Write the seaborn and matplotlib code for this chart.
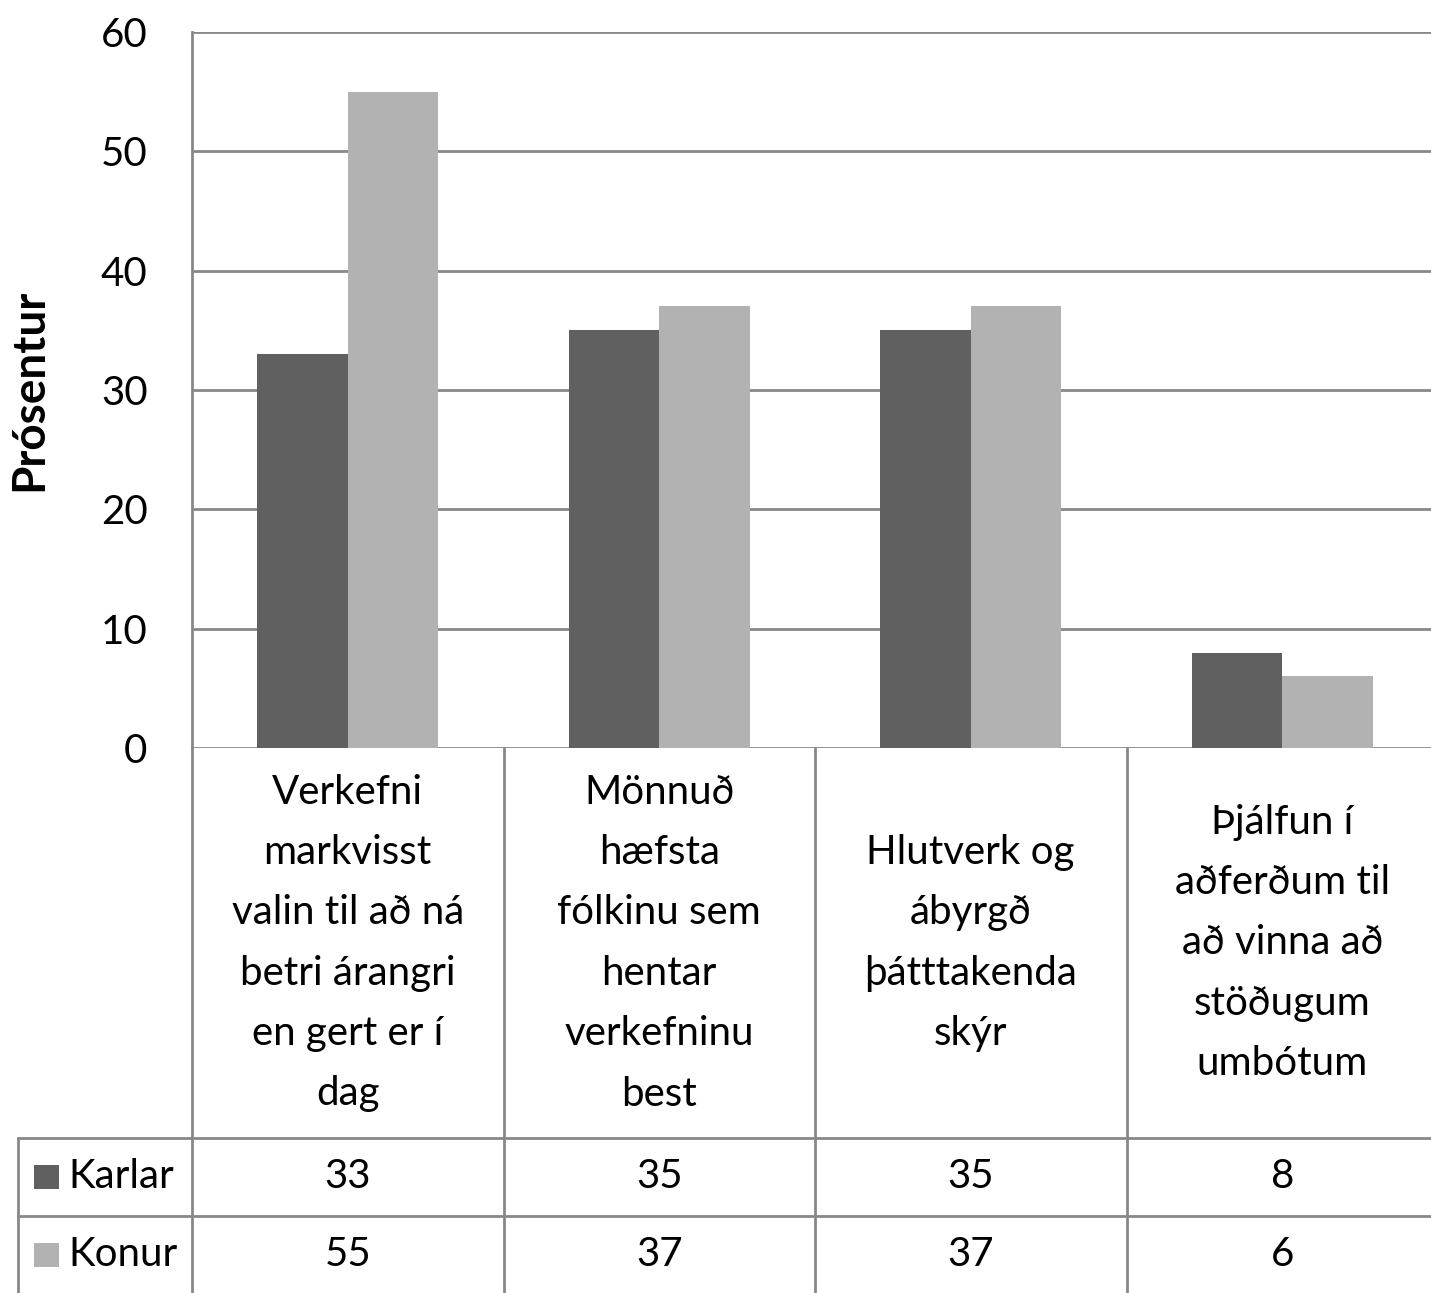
import matplotlib
matplotlib.use("Agg")
import matplotlib.pyplot as plt
import matplotlib.transforms as mtransforms
from matplotlib.lines import Line2D
from matplotlib.patches import Rectangle
import seaborn as sns
import pandas as pd

categories = [
    "Verkefni\nmarkvisst\nvalin til að ná\nbetri árangri\nen gert er í\ndag",
    "Mönnuð\nhæfsta\nfólkinu sem\nhentar\nverkefninu\nbest",
    "Hlutverk og\nábyrgð\nþátttakenda\nskýr",
    "Þjálfun í\naðferðum til\nað vinna að\nstöðugum\numbótum",
]
series_names = ["Karlar", "Konur"]
karlar = [33, 35, 35, 8]
konur = [55, 37, 37, 6]
y_ticks = [0, 10, 20, 30, 40, 50, 60]
y_label = "Prósentur"
colors = {"Karlar": "#606060", "Konur": "#b2b2b2"}
grid_color = "#888888"

sns.set_theme(style="white")
plt.rcParams["font.family"] = ["Lato", "DejaVu Sans"]

W, H = 1431, 1293
fig = plt.figure(figsize=(W / 100, H / 100), dpi=100)

def fx(px):
    return px / W

def fy(py):
    return 1 - py / H

FS = 29
ax_left, ax_right = 192, 1438
ax = fig.add_axes([fx(ax_left), fy(748), fx(ax_right) - fx(ax_left), fy(32) - fy(748)])

df = pd.DataFrame({
    "cat": list(range(len(categories))) * 2,
    "series": [series_names[0]] * len(karlar) + [series_names[1]] * len(konur),
    "value": karlar + konur,
})
df["cat"] = df["cat"].astype(str)
sns.barplot(data=df, x="cat", y="value", hue="series", palette=colors,
            width=0.58, gap=0, legend=False, ax=ax, zorder=3,
            saturation=1, linewidth=0)

ax.set_xlim(-0.5, len(categories) - 0.5)
ax.set_ylim(0, 60)
ax.set_yticks(y_ticks)
ax.set_yticklabels([str(t) for t in y_ticks], fontsize=FS, color="black")
ax.tick_params(axis="y", length=0, pad=32)
ax.set_xticks([])
ax.set_xlabel("")
ax.set_ylabel(y_label, fontsize=33, fontweight="bold", color="black")
ax.yaxis.set_label_coords((50 - ax_left) / (ax_right - ax_left), 0.5)
ax.yaxis.grid(True, color=grid_color, linewidth=2.0, zorder=0)
ax.set_axisbelow(True)
for s in ["top", "right", "bottom"]:
    ax.spines[s].set_visible(False)
ax.spines["left"].set_color(grid_color)
ax.spines["left"].set_linewidth(2.0)

# Data table below the chart
bt = mtransforms.blended_transform_factory(ax.transData, fig.transFigure)
lw = 2.0
n = len(categories)
row_top, row_mid1, row_mid2, row_bot = 748, 1138, 1216, 1293

def vline(x, py0, py1, trans=bt):
    fig.add_artist(Line2D([x, x], [fy(py0), fy(py1)], transform=trans,
                          color=grid_color, linewidth=lw, clip_on=False))

for i in range(n):
    vline(i - 0.5, row_top, row_bot)
for py in [row_mid1, row_mid2]:
    fig.add_artist(Line2D([fx(18), 1.0], [fy(py), fy(py)], transform=fig.transFigure,
                          color=grid_color, linewidth=lw, clip_on=False))
fig.add_artist(Line2D([fx(18), fx(18)], [fy(row_mid1), fy(row_bot)],
                      transform=fig.transFigure, color=grid_color, linewidth=lw))

for i, c in enumerate(categories):
    fig.text(i, (fy(row_top) + fy(row_mid1)) / 2, c, transform=bt,
             ha="center", va="center", fontsize=FS, linespacing=1.78, color="black")

for vals, name, pyc in [(karlar, series_names[0], (row_mid1 + row_mid2) / 2),
                        (konur, series_names[1], (row_mid2 + row_bot) / 2)]:
    for i, v in enumerate(vals):
        fig.text(i, fy(pyc), str(v), transform=bt, ha="center", va="center",
                 fontsize=FS, color="black")
    fig.add_artist(Rectangle((fx(34), fy(pyc) - 12 / H), 25 / W, 24 / H,
                             transform=fig.transFigure, facecolor=colors[name],
                             edgecolor="none"))
    fig.text(fx(68), fy(pyc), name, ha="left", va="center", fontsize=FS, color="black")

fig.savefig("out.png", dpi=100, facecolor="white")
